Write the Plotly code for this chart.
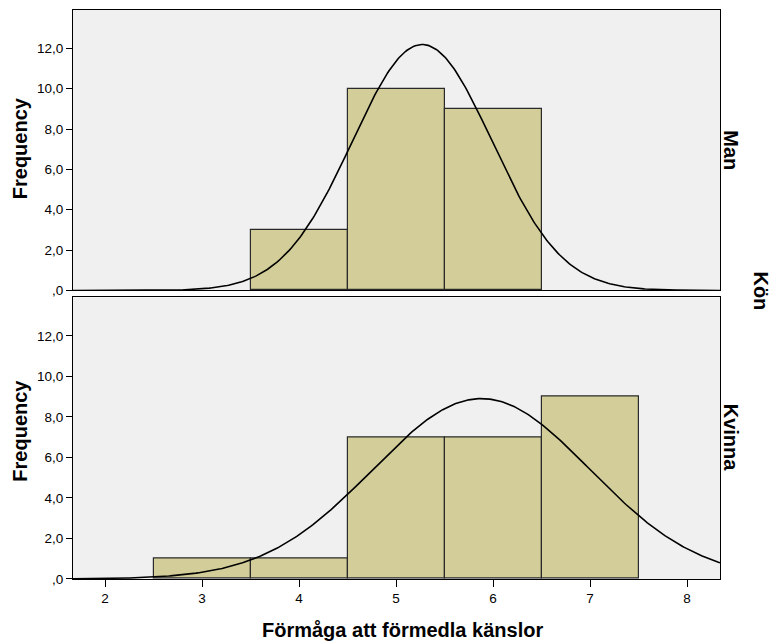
import numpy as np
import plotly.graph_objects as go

# Data
bins = [2, 3, 4, 5, 6, 7, 8]
man_counts = [0, 0, 3, 10, 9, 0, 0]
kvinna_counts = [0, 1, 1, 7, 7, 9, 0]
man_mean, man_sd, man_n = 5.27, 0.72, 22
kvinna_mean, kvinna_sd, kvinna_n = 5.88, 1.12, 25
y_ticks = [0, 2, 4, 6, 8, 10, 12]
y_tick_labels = [",0", "2,0", "4,0", "6,0", "8,0", "10,0", "12,0"]
x_ticks = [2, 3, 4, 5, 6, 7, 8]

W, H = 775, 650
REF_H = 641
FONT = "Liberation Sans, Arial, sans-serif"
BAR = "#D3CE99"
BG = "#F0F0F0"

def px_x(p):
    return p / W

def px_y(p):
    return 1 - (p * H / REF_H) / H

fig = go.Figure()

xs = np.linspace(1.67, 8.34, 400)

def normal(mean, sd, n):
    return n / (sd * np.sqrt(2 * np.pi)) * np.exp(-0.5 * ((xs - mean) / sd) ** 2)

for counts, mean, sd, n, xa, ya in [
    (man_counts, man_mean, man_sd, man_n, "x", "y"),
    (kvinna_counts, kvinna_mean, kvinna_sd, kvinna_n, "x2", "y2"),
]:
    bx = [b for b, c in zip(bins, counts) if c > 0]
    by = [c for c in counts if c > 0]
    fig.add_trace(go.Bar(x=bx, y=by, width=1, marker=dict(color=BAR, line=dict(color="#2a2a2a", width=1.2)),
                         xaxis=xa, yaxis=ya, showlegend=False))
    fig.add_trace(go.Scatter(x=xs, y=normal(mean, sd, n), mode="lines", line=dict(color="black", width=1.6),
                             xaxis=xa, yaxis=ya, showlegend=False))

xdom = [px_x(73), px_x(720)]
common_y = dict(range=[0, 13.9], tickvals=y_ticks, ticktext=y_tick_labels, ticks="outside", ticklen=6,
                tickcolor="black", showline=True, linecolor="black", linewidth=1, mirror=True,
                showgrid=False, zeroline=False, tickfont=dict(family=FONT, size=13.5, color="black"))
common_x = dict(range=[1.67, 8.34], domain=xdom, showline=True, linecolor="black", linewidth=1, mirror=True,
                showgrid=False, zeroline=False, tickfont=dict(family=FONT, size=13.5, color="black"))

fig.update_layout(
    width=W, height=H, margin=dict(l=0, r=0, t=0, b=0),
    paper_bgcolor="white", plot_bgcolor=BG, bargap=0,
    xaxis=dict(**common_x, anchor="y", showticklabels=False, ticks=""),
    yaxis=dict(**common_y, domain=[px_y(290), px_y(10)], anchor="x"),
    xaxis2=dict(**common_x, anchor="y2", tickvals=x_ticks, ticks="outside", ticklen=7, tickcolor="black"),
    yaxis2=dict(**common_y, domain=[px_y(578), px_y(297)], anchor="x2"),
)

def add_text(text, x, y, angle=0, size=20):
    fig.add_annotation(text=f"<b>{text}</b>", x=px_x(x), y=px_y(y), xref="paper", yref="paper",
                       showarrow=False, textangle=angle, font=dict(family=FONT, size=size, color="black"),
                       xanchor="center", yanchor="middle")

add_text("Frequency", 20, 148, -90)
add_text("Frequency", 20, 430, -90)
add_text("Man", 731, 150, 90)
add_text("Kvinna", 731, 437, 90)
add_text("Kön", 761, 290, 90)
add_text("Förmåga att förmedla känslor", 402, 629, 0)

post = ("document.documentElement.style.margin='0';document.body.style.margin='0';"
        "document.documentElement.style.overflow='hidden';document.body.style.overflow='hidden';")
fig.write_html("out.html", config={"displayModeBar": False}, post_script=post)
